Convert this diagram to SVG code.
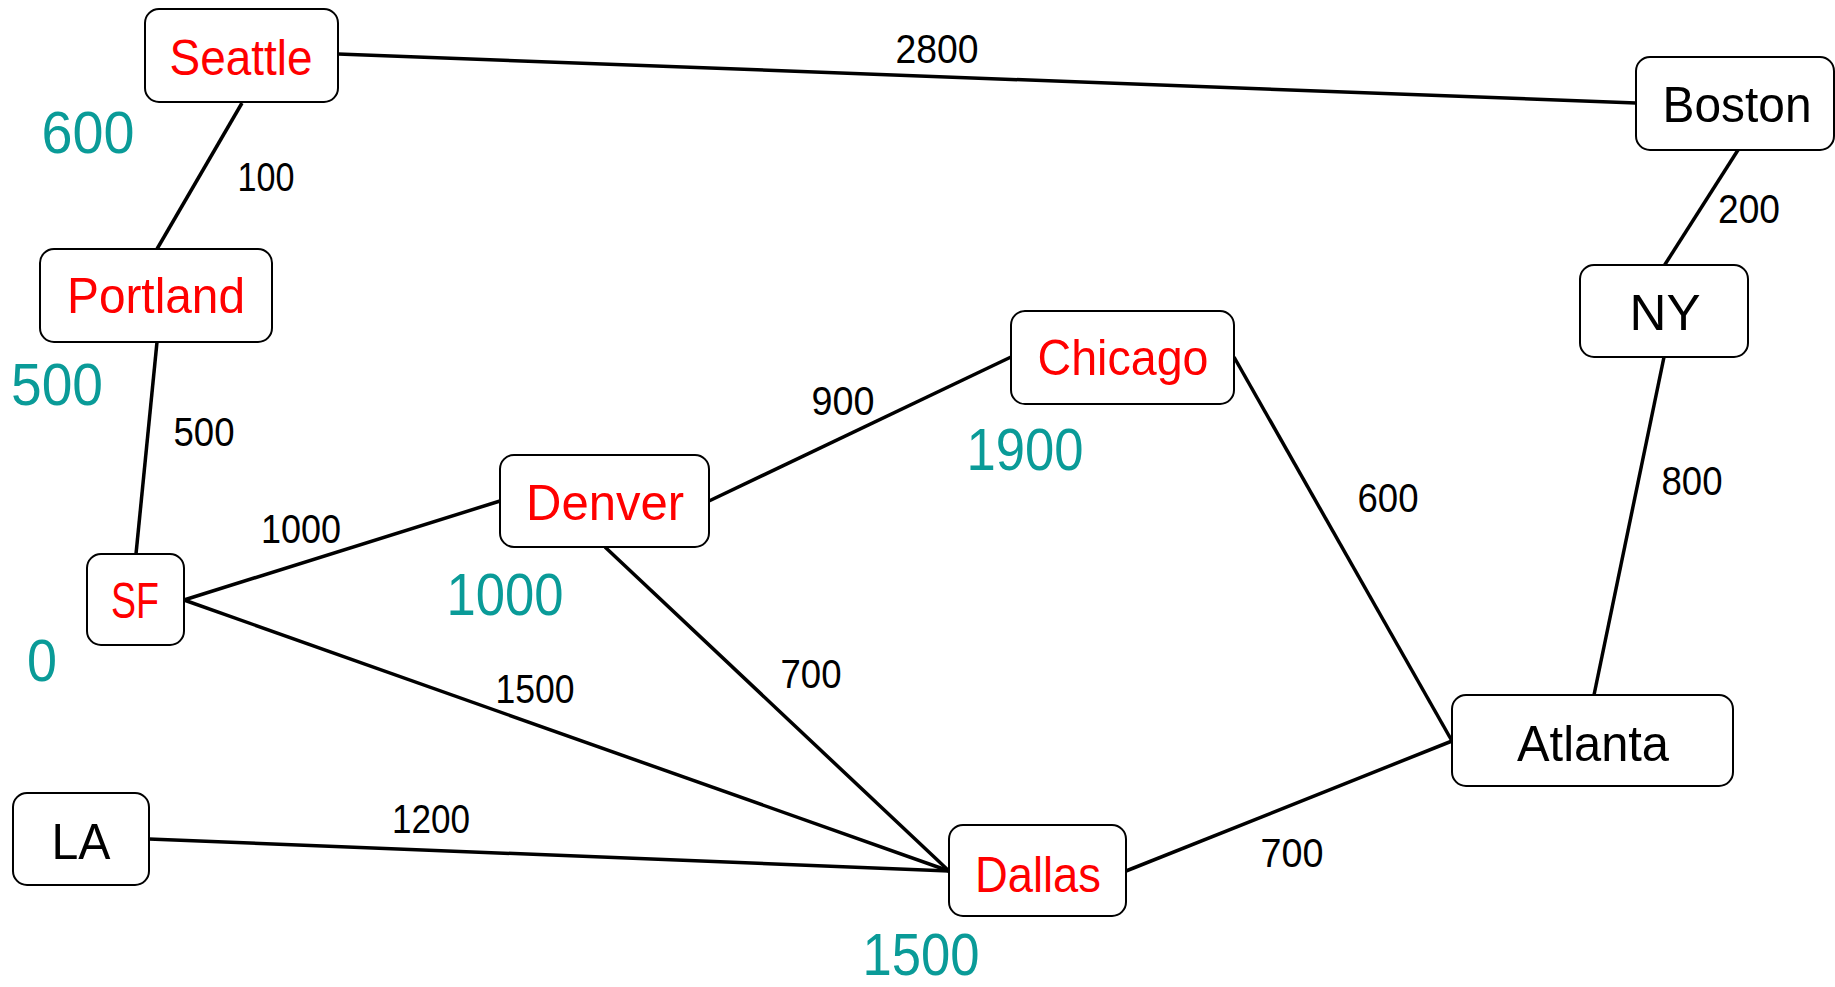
<svg xmlns="http://www.w3.org/2000/svg" width="1835" height="987" viewBox="0 0 1835 987">
<style>
.box{fill:#fff;stroke:#000;stroke-width:2}
.edge{stroke:#000;stroke-width:3.5;fill:none}
.nl{font-family:"Liberation Sans",Arial,sans-serif;font-size:50px;text-anchor:middle}
.red{fill:#ff0000}
.blk{fill:#000}
.el{font-family:"Liberation Sans",Arial,sans-serif;font-size:40px;fill:#000;text-anchor:middle}
.dist{font-family:"Liberation Sans",Arial,sans-serif;font-size:60px;fill:#0a9b98;text-anchor:middle}
</style>
<rect width="1835" height="987" fill="#fff"/>
<g id="connectors">
<line class="edge" x1="338" y1="54" x2="1636" y2="103"/>
<line class="edge" x1="242" y1="103" x2="157" y2="249"/>
<line class="edge" x1="157" y1="342" x2="136" y2="554"/>
<line class="edge" x1="184" y1="600" x2="500" y2="501"/>
<line class="edge" x1="184" y1="600" x2="949" y2="871"/>
<line class="edge" x1="709" y1="501" x2="1011" y2="357"/>
<line class="edge" x1="605" y1="547" x2="949" y2="871"/>
<line class="edge" x1="149" y1="839" x2="949" y2="871"/>
<line class="edge" x1="1234" y1="357" x2="1452" y2="741"/>
<line class="edge" x1="1126" y1="871" x2="1452" y2="741"/>
<line class="edge" x1="1738" y1="150" x2="1664" y2="266"/>
<line class="edge" x1="1664" y1="357" x2="1594" y2="695"/>
</g>
<g id="edge-labels">
<text class="el" x="937" y="63" textLength="83" lengthAdjust="spacingAndGlyphs">2800</text>
<text class="el" x="266" y="191" textLength="57" lengthAdjust="spacingAndGlyphs">100</text>
<text class="el" x="1749" y="223" textLength="62" lengthAdjust="spacingAndGlyphs">200</text>
<text class="el" x="204" y="446" textLength="61" lengthAdjust="spacingAndGlyphs">500</text>
<text class="el" x="301" y="543" textLength="80" lengthAdjust="spacingAndGlyphs">1000</text>
<text class="el" x="535" y="703" textLength="79" lengthAdjust="spacingAndGlyphs">1500</text>
<text class="el" x="431" y="833" textLength="78" lengthAdjust="spacingAndGlyphs">1200</text>
<text class="el" x="843" y="415" textLength="63" lengthAdjust="spacingAndGlyphs">900</text>
<text class="el" x="811" y="688" textLength="61" lengthAdjust="spacingAndGlyphs">700</text>
<text class="el" x="1388" y="512" textLength="61" lengthAdjust="spacingAndGlyphs">600</text>
<text class="el" x="1692" y="495" textLength="61" lengthAdjust="spacingAndGlyphs">800</text>
<text class="el" x="1292" y="867" textLength="63" lengthAdjust="spacingAndGlyphs">700</text>
</g>
<g id="node-seattle"><rect class="box" x="145" y="9" width="193" height="93" rx="14"/><text class="nl red" x="241" y="75" textLength="143" lengthAdjust="spacingAndGlyphs">Seattle</text></g>
<g id="node-portland"><rect class="box" x="40" y="249" width="232" height="93" rx="14"/><text class="nl red" x="156" y="313" textLength="178" lengthAdjust="spacingAndGlyphs">Portland</text></g>
<g id="node-boston"><rect class="box" x="1636" y="57" width="198" height="93" rx="14"/><text class="nl blk" x="1737" y="122" textLength="149" lengthAdjust="spacingAndGlyphs">Boston</text></g>
<g id="node-ny"><rect class="box" x="1580" y="265" width="168" height="92" rx="14"/><text class="nl blk" x="1665" y="330" textLength="71" lengthAdjust="spacingAndGlyphs">NY</text></g>
<g id="node-sf"><rect class="box" x="87" y="554" width="97" height="91" rx="14"/><text class="nl red" x="135" y="618" textLength="48" lengthAdjust="spacingAndGlyphs">SF</text></g>
<g id="node-denver"><rect class="box" x="500" y="455" width="209" height="92" rx="14"/><text class="nl red" x="605" y="520" textLength="158" lengthAdjust="spacingAndGlyphs">Denver</text></g>
<g id="node-la"><rect class="box" x="13" y="793" width="136" height="92" rx="14"/><text class="nl blk" x="81" y="859" textLength="59" lengthAdjust="spacingAndGlyphs">LA</text></g>
<g id="node-chicago"><rect class="box" x="1011" y="311" width="223" height="93" rx="14"/><text class="nl red" x="1123" y="375" textLength="171" lengthAdjust="spacingAndGlyphs">Chicago</text></g>
<g id="node-dallas"><rect class="box" x="949" y="825" width="177" height="91" rx="14"/><text class="nl red" x="1038" y="892" textLength="126" lengthAdjust="spacingAndGlyphs">Dallas</text></g>
<g id="node-atlanta"><rect class="box" x="1452" y="695" width="281" height="91" rx="14"/><text class="nl blk" x="1593" y="761" textLength="152" lengthAdjust="spacingAndGlyphs">Atlanta</text></g>
<g id="distances">
<text class="dist" x="88" y="153" textLength="93" lengthAdjust="spacingAndGlyphs">600</text>
<text class="dist" x="57" y="405" textLength="92" lengthAdjust="spacingAndGlyphs">500</text>
<text class="dist" x="42" y="681" textLength="30" lengthAdjust="spacingAndGlyphs">0</text>
<text class="dist" x="505" y="615" textLength="117" lengthAdjust="spacingAndGlyphs">1000</text>
<text class="dist" x="1025" y="470" textLength="117" lengthAdjust="spacingAndGlyphs">1900</text>
<text class="dist" x="921" y="975" textLength="117" lengthAdjust="spacingAndGlyphs">1500</text>
</g>
</svg>
